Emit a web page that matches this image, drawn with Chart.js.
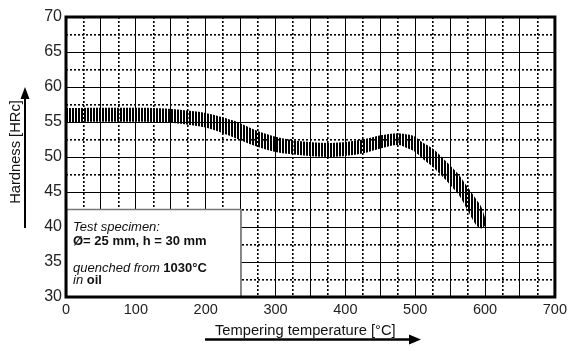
<!DOCTYPE html>
<html>
<head>
<meta charset="utf-8">
<script src="https://cdn.jsdelivr.net/npm/chart.js@4"></script>
<style>
  html, body { margin: 0; padding: 0; background: #fff; }
  #wrap { width: 571px; height: 351px; }
</style>
</head>
<body>
<div id="wrap"><canvas id="hardnessChart" width="571" height="351"></canvas></div>
<script>
// tempering temperature [°C] and hardness band limits [HRc]
const temps = [0, 125, 160, 200, 240, 270, 300, 340, 380, 425, 450, 475, 490, 500, 510, 525, 540, 550, 563, 575, 587, 595, 600];
const upperHRc = [57, 57, 56.8, 56.3, 55.2, 53.9, 52.9, 52.2, 52.0, 52.5, 53.1, 53.4, 53.2, 52.9, 52.1, 51.2, 49.8, 48.8, 47.4, 45.7, 44.0, 42.8, 41.3];
const lowerHRc = [55, 55, 54.8, 54.2, 52.8, 51.6, 50.7, 50.2, 50.0, 50.5, 51.2, 51.7, 51.2, 50.7, 49.8, 48.6, 47.1, 46.0, 44.5, 42.4, 40.3, 39.8, 40.2];

const xTitle = 'Tempering temperature [°C]';
const yTitle = 'Hardness [HRc]';
const noteLines = [
    [{ t: 'Test specimen:', f: 'italic' }],
    [{ t: 'Ø= 25 mm, h = 30 mm', f: 'bold' }],
    [],
    [{ t: 'quenched from ', f: 'italic' }, { t: '1030°C', f: 'bold' }],
    [{ t: 'in', f: 'italic' }, { t: ' oil', f: 'bold' }]
];

const FONT = '"Liberation Sans", Arial, sans-serif';

// vertical hatch used for the band
const pc = document.createElement('canvas');
pc.width = 3; pc.height = 4;
const pctx = pc.getContext('2d');
pctx.fillStyle = '#000';
pctx.fillRect(0, 0, 2, 4);
const hatch = pctx.createPattern(pc, 'repeat');

const decorations = {
    id: 'decorations',
    afterDatasetsDraw(chart) {
        const c = chart.ctx;
        const xs = chart.scales.x, ys = chart.scales.y;
        // note box
        const bx = xs.getPixelForValue(0), by = ys.getPixelForValue(42.5);
        const bw = xs.getPixelForValue(250) - bx, bh = ys.getPixelForValue(30) - by;
        c.save();
        c.fillStyle = '#fff';
        c.fillRect(bx, by, bw, bh);
        c.strokeStyle = '#777';
        c.lineWidth = 1.5;
        c.strokeRect(bx + 0.5, by, bw, bh);
        c.fillStyle = '#111';
        c.textBaseline = 'alphabetic';
        c.textAlign = 'left';
        const baselines = [231, 245, 258, 272, 284];
        noteLines.forEach((line, i) => {
            let x = bx + 7;
            line.forEach(seg => {
                c.font = seg.f + ' 13px ' + FONT;
                c.fillText(seg.t, x, baselines[i]);
                x += c.measureText(seg.t).width;
            });
        });
        c.restore();
    },
    afterDraw(chart) {
        const c = chart.ctx;
        const a = chart.chartArea;
        c.save();
        // frame
        c.strokeStyle = '#000';
        c.lineWidth = 3;
        c.strokeRect(a.left, a.top, a.right - a.left, a.bottom - a.top);

        c.fillStyle = '#111';
        c.font = '14.7px ' + FONT;
        // x title + arrow
        c.textAlign = 'left';
        c.textBaseline = 'alphabetic';
        c.fillText(xTitle, 215, 335);
        c.lineWidth = 2.5;
        c.beginPath();
        c.moveTo(205, 339.5); c.lineTo(411, 339.5);
        c.stroke();
        c.fillStyle = '#000';
        c.beginPath();
        c.moveTo(421, 339.5); c.lineTo(409, 334.5); c.lineTo(409, 344.5);
        c.closePath(); c.fill();

        // y title + arrow
        c.save();
        c.translate(20, 152);
        c.rotate(-Math.PI / 2);
        c.textAlign = 'center';
        c.fillStyle = '#111';
        c.fillText(yTitle, 0, 0);
        c.restore();
        c.lineWidth = 2;
        c.beginPath();
        c.moveTo(25, 228); c.lineTo(25, 97);
        c.stroke();
        c.beginPath();
        c.moveTo(25, 87); c.lineTo(20.5, 99); c.lineTo(29.5, 99);
        c.closePath(); c.fill();
        c.restore();
    }
};

new Chart(document.getElementById('hardnessChart').getContext('2d'), {
    type: 'line',
    data: {
        labels: temps,
        datasets: [{
            label: 'upper',
            data: temps.map((t, i) => ({ x: t, y: upperHRc[i] })),
            borderWidth: 0,
            borderColor: 'rgba(0,0,0,0)',
            backgroundColor: hatch,
            pointRadius: 0,
            tension: 0.3,
            fill: '+1'
        }, {
            label: 'lower',
            data: temps.map((t, i) => ({ x: t, y: lowerHRc[i] })),
            borderWidth: 0,
            borderColor: 'rgba(0,0,0,0)',
            pointRadius: 0,
            tension: 0.3,
            fill: false
        }]
    },
    options: {
        responsive: false,
        animation: false,
        layout: { padding: { left: 0, top: 17, right: 16, bottom: 0 } },
        plugins: {
            legend: { display: false },
            tooltip: { enabled: false }
        },
        scales: {
            x: {
                type: 'linear',
                min: 0,
                max: 700,
                afterFit: s => { s.height = 54; },
                grid: {
                    color: '#000',
                    lineWidth: ctx => ctx.tick.value % 50 === 0 ? 1 : 1.6,
                    drawTicks: false
                },
                border: {
                    display: false,
                    dash: ctx => ctx.tick.value % 50 === 0 ? [] : [2, 2]
                },
                ticks: {
                    stepSize: 25,
                    autoSkip: false,
                    maxRotation: 0,
                    padding: 4,
                    color: '#222',
                    font: { family: FONT, size: 14.5 },
                    callback: v => v % 100 === 0 ? v : ''
                }
            },
            y: {
                min: 30,
                max: 70,
                afterFit: s => { s.width = 66; },
                grid: {
                    color: '#000',
                    lineWidth: ctx => ctx.tick.value % 5 === 0 ? 1 : 1.6,
                    drawTicks: false
                },
                border: {
                    display: false,
                    dash: ctx => ctx.tick.value % 5 === 0 ? [] : [2, 2]
                },
                ticks: {
                    stepSize: 2.5,
                    autoSkip: false,
                    padding: 4,
                    color: '#222',
                    font: { family: FONT, size: 16 },
                    callback: v => v % 5 === 0 ? v : ''
                }
            }
        }
    },
    plugins: [decorations]
});
</script>
</body>
</html>
